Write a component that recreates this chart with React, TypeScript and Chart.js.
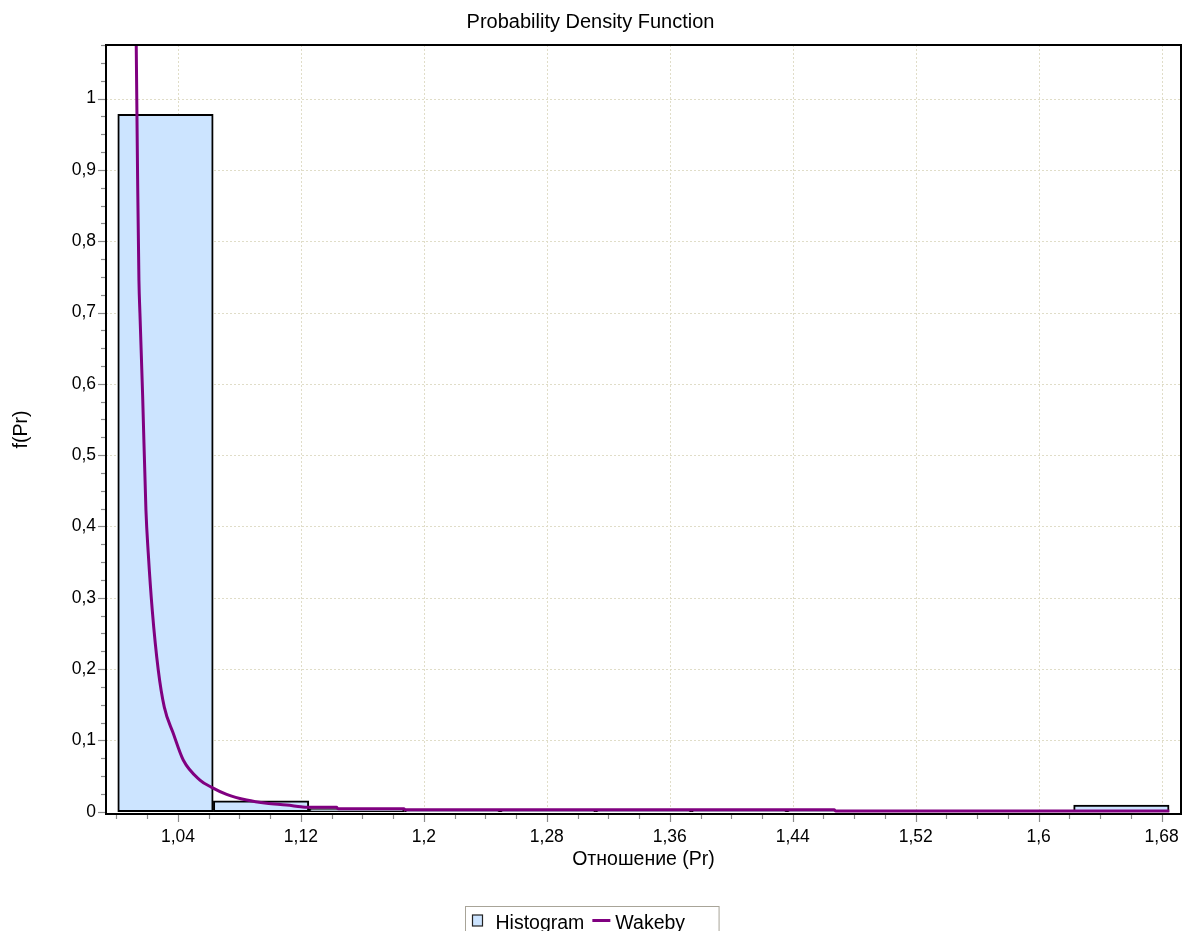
import React, { useEffect, useRef } from 'react';
import { Chart, registerables } from 'chart.js';

Chart.register(...registerables);

// ---------- data ----------
const chartTitle = 'Probability Density Function';
const xAxisTitle = 'Отношение (Pr)';
const yAxisTitle = 'f(Pr)';
const histLabel = 'Histogram';
const curveLabel = 'Wakeby';

// histogram: bin centres and relative frequencies
const histBinCenters = [1.0319, 1.0941, 1.1563, 1.2185, 1.2807, 1.3429, 1.4051, 1.4673, 1.5294, 1.5916, 1.6538];
const histValues = [0.978, 0.0154, 0.0045, 0.0015, 0.0015, 0.0015, 0.0015, 0.0015, 0.0015, 0.0015, 0.0094];

// Wakeby fitted density
const wakebyX = [
  1.0125, 1.01287, 1.01378, 1.01463, 1.01528, 1.01703, 1.01918, 1.02068, 1.02328, 1.02718,
  1.03109, 1.03694, 1.04345, 1.05431, 1.06193, 1.07168, 1.0847, 1.09771, 1.11072, 1.12,
  1.124, 1.1432, 1.1441, 1.187, 1.188, 1.467, 1.468, 1.685,
];
const wakebyY = [
  1.15, 1.075, 0.886, 0.745, 0.699, 0.584, 0.423, 0.363, 0.283, 0.199,
  0.147, 0.11, 0.0725, 0.0444, 0.0342, 0.0244, 0.0164, 0.0118, 0.0094, 0.007,
  0.0062, 0.0062, 0.0042, 0.004, 0.0026, 0.0026, 0.001, 0.001,
];

// axes
const xTicks = [1.04, 1.12, 1.2, 1.28, 1.36, 1.44, 1.52, 1.6, 1.68];
const yTicks = [0, 0.1, 0.2, 0.3, 0.4, 0.5, 0.6, 0.7, 0.8, 0.9, 1];
const xRange = [0.9932, 1.6926];
const yRange = [-0.0032, 1.0751];
const xMinorStep = 0.02;
const yMinorStep = 0.025;

// ---------- styling ----------
const FONT = "'Liberation Sans', Arial, sans-serif";
const BAR_FILL = '#cce4ff';
const CURVE = '#800080';
const GRID = 'rgb(224,221,200)';
const TICK = '#8a8a8a';

const fmt = (v: number) => String(Math.round(v * 1000) / 1000).replace('.', ',');

const decorPlugin = {
  id: 'decor',
  beforeDatasetsDraw(chart: any) {
    const { ctx, chartArea: a, scales } = chart;
    const x = scales.x, y = scales.y;
    ctx.save();
    ctx.strokeStyle = GRID;
    ctx.lineWidth = 1;
    ctx.setLineDash([2, 2]);
    for (const v of xTicks) {
      const px = Math.round(x.getPixelForValue(v)) + 0.5;
      ctx.beginPath();
      ctx.moveTo(px, a.top);
      ctx.lineTo(px, a.bottom);
      ctx.stroke();
    }
    for (const v of yTicks) {
      if (v === 0) continue;
      const py = Math.round(y.getPixelForValue(v)) + 0.5;
      ctx.beginPath();
      ctx.moveTo(a.left, py);
      ctx.lineTo(a.right, py);
      ctx.stroke();
    }
    ctx.restore();
  },
  afterDatasetsDraw(chart: any) {
    const { ctx, chartArea: a, scales } = chart;
    const x = scales.x, y = scales.y;
    ctx.save();
    ctx.strokeStyle = TICK;
    ctx.lineWidth = 1.2;
    const xs = Math.ceil(xRange[0] / xMinorStep);
    const xe = Math.floor(xRange[1] / xMinorStep);
    for (let i = xs; i <= xe; i++) {
      const v = i * xMinorStep;
      const major = xTicks.some((t) => Math.abs(t - v) < 1e-6);
      const px = Math.round(x.getPixelForValue(v)) + 0.5;
      ctx.beginPath();
      ctx.moveTo(px, a.bottom);
      ctx.lineTo(px, a.bottom + (major ? 8 : 5));
      ctx.stroke();
    }
    const ys = Math.ceil(yRange[0] / yMinorStep);
    const ye = Math.floor(yRange[1] / yMinorStep);
    for (let i = ys; i <= ye; i++) {
      const v = i * yMinorStep;
      const major = yTicks.some((t) => Math.abs(t - v) < 1e-6);
      const py = Math.round(y.getPixelForValue(v)) + 0.5;
      ctx.beginPath();
      ctx.moveTo(a.left, py);
      ctx.lineTo(a.left - (major ? 8 : 5), py);
      ctx.stroke();
    }
    ctx.strokeStyle = '#000';
    ctx.lineWidth = 2;
    ctx.strokeRect(a.left, a.top, a.right - a.left, a.bottom - a.top);
    ctx.restore();
  },
  afterDraw(chart: any) {
    const { ctx, width, height } = chart;
    const ds = chart.data.datasets;
    ctx.save();
    ctx.font = `19.5px ${FONT}`;
    const w1 = ctx.measureText(ds[0].label).width;
    const w2 = ctx.measureText(ds[1].label).width;
    const padL = 7, sw = 10, gap1 = 13, gapItems = 8, lineW = 18, gap2 = 5, padR = 34;
    const boxW = padL + sw + gap1 + w1 + gapItems + lineW + gap2 + w2 + padR;
    const left = Math.round(width / 2 - boxW / 2) + 0.5;
    const top = height - 24.5;
    ctx.strokeStyle = '#a8a498';
    ctx.lineWidth = 1;
    ctx.strokeRect(left, top, boxW, 40);
    let cx = left + padL;
    ctx.fillStyle = ds[0].backgroundColor;
    ctx.fillRect(cx, top + 8.5, sw, 11);
    ctx.strokeStyle = '#222';
    ctx.lineWidth = 1.2;
    ctx.strokeRect(cx, top + 8.5, sw, 11);
    cx += sw + gap1;
    ctx.fillStyle = '#000';
    ctx.textBaseline = 'alphabetic';
    ctx.fillText(ds[0].label, cx, top + 22.5);
    cx += w1 + gapItems;
    ctx.strokeStyle = ds[1].borderColor;
    ctx.lineWidth = 3;
    ctx.beginPath();
    ctx.moveTo(cx, top + 14);
    ctx.lineTo(cx + lineW, top + 14);
    ctx.stroke();
    cx += lineW + gap2;
    ctx.fillText(ds[1].label, cx, top + 22.5);
    ctx.restore();
  },
};

export default function App() {
  const canvasRef = useRef<HTMLCanvasElement | null>(null);

  useEffect(() => {
    if (!canvasRef.current) return;
    const histData = histBinCenters.map((c, i) => ({ x: c, y: histValues[i] }));
    const curveData = wakebyX.map((v, i) => ({ x: v, y: wakebyY[i] }));
    const chart = new Chart(canvasRef.current, {
      type: 'bar',
      data: {
        datasets: [
          {
            type: 'bar',
            label: histLabel,
            data: histData as any,
            backgroundColor: BAR_FILL,
            borderColor: '#000',
            borderWidth: 2,
            borderSkipped: false,
            barPercentage: 1,
            categoryPercentage: 1,
            order: 1,
          } as any,
          {
            type: 'line',
            label: curveLabel,
            data: curveData as any,
            borderColor: CURVE,
            backgroundColor: CURVE,
            borderWidth: 3,
            pointRadius: 0,
            cubicInterpolationMode: 'monotone',
            fill: false,
            clip: 0,
            order: 0,
          } as any,
        ],
      },
      plugins: [decorPlugin],
      options: {
        animation: false,
        responsive: false,
        events: [],
        layout: { padding: { left: 0, right: 2, top: 0, bottom: 0 } },
        plugins: {
          legend: { display: false },
          tooltip: { enabled: false },
          title: {
            display: true,
            text: chartTitle,
            color: '#000',
            font: { family: FONT, size: 20, weight: 'normal', lineHeight: 1.2 },
            padding: { top: 10.5, bottom: 10.5 },
          },
        },
        scales: {
          x: {
            type: 'linear',
            min: xRange[0],
            max: xRange[1],
            offset: false,
            grid: { display: false, drawTicks: false, offset: false },
            border: { display: false },
            afterBuildTicks: (s: any) => {
              s.ticks = xTicks.map((v) => ({ value: v }));
            },
            afterFit: (s: any) => {
              s.height = 117;
              s.paddingLeft = 0;
              s.paddingRight = 0;
            },
            ticks: {
              color: '#000',
              font: { family: FONT, size: 17.5 },
              padding: 13,
              maxRotation: 0,
              autoSkip: false,
              callback: (v: any) => fmt(Number(v)),
            },
            title: {
              display: true,
              text: xAxisTitle,
              color: '#000',
              font: { family: FONT, size: 19.5 },
              padding: { top: 0, bottom: 59.5 },
            },
          },
          y: {
            type: 'linear',
            min: yRange[0],
            max: yRange[1],
            grid: { display: false, drawTicks: false },
            border: { display: false },
            afterBuildTicks: (s: any) => {
              s.ticks = yTicks.map((v) => ({ value: v }));
            },
            afterFit: (s: any) => {
              s.width = 106;
              s.paddingTop = 0;
              s.paddingBottom = 0;
            },
            ticks: {
              color: '#000',
              font: { family: FONT, size: 17.5 },
              padding: 10,
              autoSkip: false,
              callback: (v: any) => fmt(Number(v)),
            },
            title: {
              display: true,
              text: yAxisTitle,
              color: '#000',
              font: { family: FONT, size: 19.5 },
              padding: { top: 9.5, bottom: 0 },
            },
          },
        },
      } as any,
    });
    return () => chart.destroy();
  }, []);

  return (
    <div style={{ position: 'absolute', left: 0, top: 0, width: 1183, height: 931, background: '#fff' }}>
      <canvas ref={canvasRef} width={1183} height={931} style={{ display: 'block', width: 1183, height: 931 }} />
    </div>
  );
}
